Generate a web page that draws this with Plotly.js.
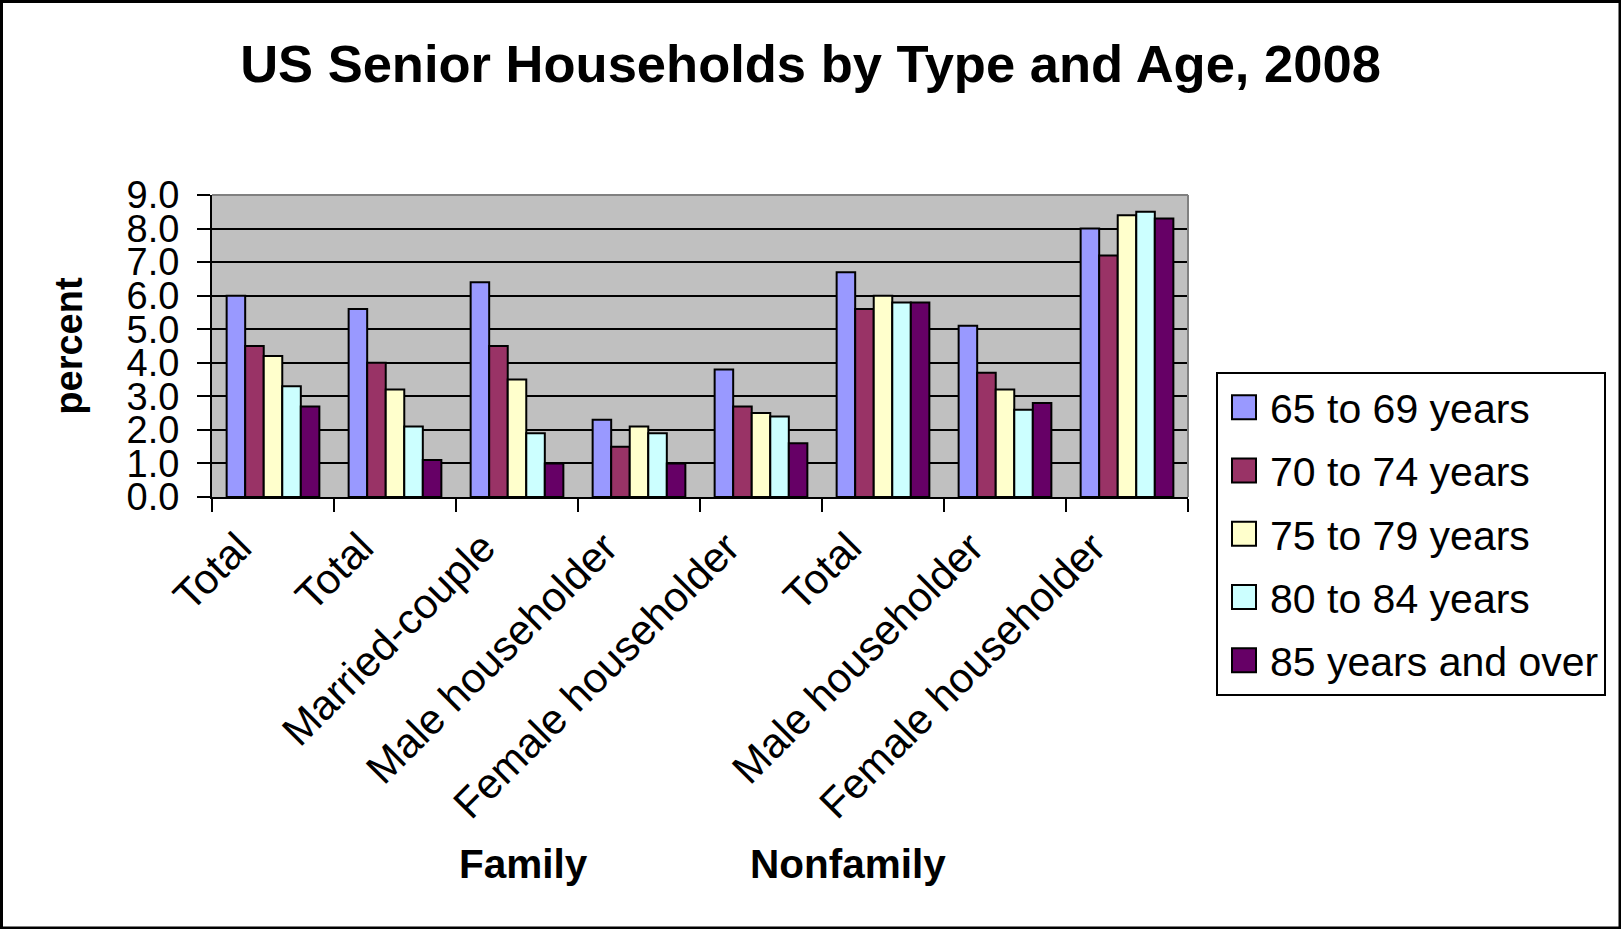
<!DOCTYPE html>
<html>
<head>
<meta charset="utf-8">
<script src="https://cdn.plot.ly/plotly-3.0.1.min.js"></script>
<style>
  html, body { margin: 0; padding: 0; background: #ffffff; }
  #chart { width: 1621px; height: 929px; }
</style>
</head>
<body>
<div id="chart"></div>
<script>
// ---------- data ----------
const categoryGroups = ['All', 'Family', 'Family', 'Family', 'Family', 'Nonfamily', 'Nonfamily', 'Nonfamily'];
const categoryLabels = ['Total', 'Total', 'Married-couple', 'Male householder', 'Female householder', 'Total', 'Male householder', 'Female householder'];
const seriesNames = ['65 to 69 years', '70 to 74 years', '75 to 79 years', '80 to 84 years', '85 years and over'];
const age65to69 = [6.0, 5.6, 6.4, 2.3, 3.8, 6.7, 5.1, 8.0];
const age70to74 = [4.5, 4.0, 4.5, 1.5, 2.7, 5.6, 3.7, 7.2];
const age75to79 = [4.2, 3.2, 3.5, 2.1, 2.5, 6.0, 3.2, 8.4];
const age80to84 = [3.3, 2.1, 1.9, 1.9, 2.4, 5.8, 2.6, 8.5];
const age85plus = [2.7, 1.1, 1.0, 1.0, 1.6, 5.8, 2.8, 8.3];
const groupTitles = ['Family', 'Nonfamily'];
const chartTitle = 'US Senior Households by Type and Age, 2008';
const yTitle = 'percent';

// ---------- styling ----------
const seriesValues = [age65to69, age70to74, age75to79, age80to84, age85plus];
const seriesColors = ['#9999FF', '#993366', '#FFFFCC', '#CCFFFF', '#660066'];
const FONT = 'Liberation Sans, Arial, Helvetica, sans-serif';
const W = 1621, H = 929;
const M = { l: 212, r: 433, t: 195, b: 432 };
const PW = W - M.l - M.r, PH = H - M.t - M.b;
const pxX = p => (p - M.l) / PW;
const pxY = p => (H - M.b - p) / PH;

const categoryKeys = categoryLabels.map((lab, i) => categoryGroups[i] + ': ' + lab);

const traces = seriesNames.map((name, k) => ({
  type: 'bar',
  name: name,
  x: categoryKeys,
  y: seriesValues[k],
  legendgroup: 'g' + k,
  marker: { color: seriesColors[k], line: { color: '#000000', width: 2 } },
  hoverinfo: 'x+y+name'
}));

const groupLabelX = [523, 848];
const annotations = groupTitles.map((t, i) => ({
  text: t, xref: 'paper', yref: 'paper',
  x: pxX(groupLabelX[i]), y: pxY(864),
  xanchor: 'center', yanchor: 'middle', showarrow: false,
  font: { family: FONT, size: 40.5, color: '#000000', weight: 700 }
}));

const layout = {
  width: W, height: H,
  margin: M,
  paper_bgcolor: '#ffffff',
  plot_bgcolor: '#C0C0C0',
  barmode: 'group',
  bargap: 0.24,
  bargroupgap: 0,
  font: { family: FONT, color: '#000000' },
  title: {
    text: chartTitle,
    xref: 'container', x: 0.5, xanchor: 'center',
    yref: 'container', y: 1 - 64 / H, yanchor: 'middle',
    font: { family: FONT, size: 52.5, color: '#000000', weight: 700 }
  },
  xaxis: {
    type: 'category',
    categoryorder: 'array', categoryarray: categoryKeys,
    tickmode: 'array', tickvals: categoryKeys, ticktext: categoryLabels,
    tickson: 'boundaries',
    tickangle: -45,
    ticklabelshift: -34,
    ticklabelstandoff: 7,
    ticks: 'outside', ticklen: 13, tickwidth: 2, tickcolor: '#000000',
    showgrid: false, zeroline: false,
    showline: true, linecolor: '#000000', linewidth: 2,
    tickfont: { family: FONT, size: 42, color: '#000000' },
    automargin: false, fixedrange: true
  },
  yaxis: {
    range: [0, 9], dtick: 1, tick0: 0, tickformat: '.1f',
    ticks: 'outside', ticklen: 13, tickwidth: 2, tickcolor: '#000000',
    ticklabelstandoff: 10,
    showgrid: true, gridcolor: '#000000', gridwidth: 2,
    zeroline: false,
    showline: true, linecolor: '#000000', linewidth: 2,
    tickfont: { family: FONT, size: 38, color: '#000000' },
    title: { text: yTitle, standoff: 32, font: { family: FONT, size: 38, color: '#000000', weight: 700 } },
    automargin: false, fixedrange: true
  },
  legend: {
    x: pxX(1216), y: pxY(372), xanchor: 'left', yanchor: 'top',
    bgcolor: '#ffffff', bordercolor: '#000000', borderwidth: 2,
    font: { family: FONT, size: 41, color: '#000000' },
    traceorder: 'grouped', tracegroupgap: 7,
    itemwidth: 42,
    maxheight: 900,
    itemclick: false, itemdoubleclick: false
  },
  annotations: annotations,
  shapes: [
    // plot-area top and right border (gray)
    { type: 'line', xref: 'paper', yref: 'paper', x0: 0, x1: 1, y0: 1, y1: 1, line: { color: '#808080', width: 2 } },
    { type: 'line', xref: 'paper', yref: 'paper', x0: 1, x1: 1, y0: 0, y1: 1, line: { color: '#808080', width: 2 } },
    // outer chart frame
    { type: 'rect', xref: 'paper', yref: 'paper',
      x0: pxX(1.5), x1: pxX(W - 1), y0: pxY(H - 1), y1: pxY(1.5),
      line: { color: '#000000', width: 3 }, fillcolor: 'rgba(0,0,0,0)' }
  ],
  showlegend: true
};

Plotly.newPlot('chart', traces, layout, { displayModeBar: false, responsive: false })
  .then(gd => {
    gd.querySelectorAll('.legendpoints path').forEach(p => p.setAttribute('d', 'M12,12H-12V-12H12Z'));
  });
</script>
</body>
</html>
